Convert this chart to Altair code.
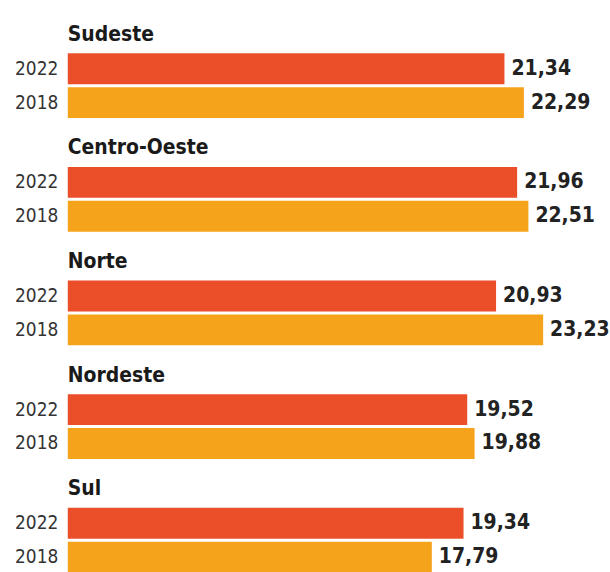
import altair as alt
import pandas as pd

regions = ["Sudeste", "Centro-Oeste", "Norte", "Nordeste", "Sul"]
years = ["2022", "2018"]
values_2022 = [21.34, 21.96, 20.93, 19.52, 19.34]
values_2018 = [22.29, 22.51, 23.23, 19.88, 17.79]
colors = ["#EB4F2A", "#F6A31C"]

FONT = "DejaVu Sans Condensed, Liberation Sans Narrow, sans-serif"

rows = []
for r, v22, v18 in zip(regions, values_2022, values_2018):
    for y, v in zip(years, [v22, v18]):
        rows.append({"region": r, "year": y, "value": v,
                     "label": f"{v:.2f}".replace(".", ",")})
df = pd.DataFrame(rows)


def panel(r):
    base = alt.Chart(df[df.region == r]).encode(
        y=alt.Y("year:N", sort=years,
                scale=alt.Scale(paddingInner=0.09, paddingOuter=0.045),
                axis=alt.Axis(title=None, domain=False, ticks=False,
                              labelFontSize=19, labelFont=FONT,
                              labelColor="#333333", labelPadding=10,
                              minExtent=68, maxExtent=68)),
        x=alt.X("value:Q", scale=alt.Scale(domain=[0, 26.4], nice=False, zero=True),
                axis=None),
    )
    bars = base.mark_bar().encode(
        color=alt.Color("year:N", scale=alt.Scale(domain=years, range=colors), legend=None)
    )
    text = base.mark_text(align="left", baseline="middle", dx=7, fontSize=21,
                          fontWeight="bold", font=FONT, color="#222222").encode(
        text="label:N"
    )
    return (bars + text).properties(
        width=542, height=68,
        title=alt.TitleParams(r, anchor="start", frame="group", fontSize=21,
                              font=FONT, fontWeight="bold", color="#1a1a1a",
                              offset=7),
    )


chart = alt.vconcat(*[panel(r) for r in regions], spacing=18).properties(
    padding={"left": 0, "top": 23, "right": 0, "bottom": 0},
    background="white",
).configure_view(stroke=None)

chart.save("out.html", embed_options={"renderer": "svg", "actions": False})
